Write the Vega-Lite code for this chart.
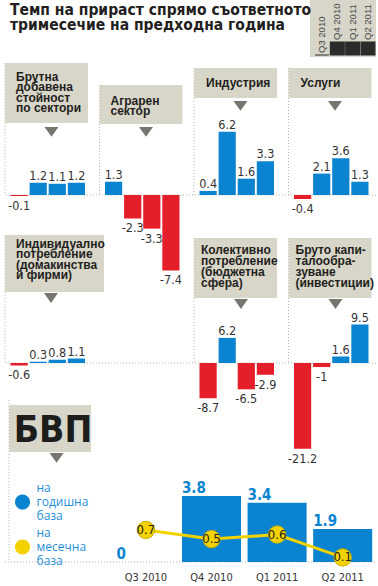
{
  "$schema": "https://vega.github.io/schema/vega-lite/v6.json",
  "padding": {"left": 4, "top": 0, "right": 3, "bottom": 24},
  "background": "white",
  "title": {
    "text": ["Темп на прираст спрямо съответното", "тримесечие на предходна година"],
    "anchor": "start", "orient": "top", "frame": "group", "offset": -33, "baseline": "top", "dx": 5,
    "font": "Liberation Sans Narrow, DejaVu Sans Condensed, sans-serif", "fontSize": 15.5, "fontWeight": "bold",
    "color": "#231f20", "lineHeight": 15
  },
  "config": {"view": {"stroke": null}, "font": "Liberation Sans, sans-serif"},
  "datasets": {
    "bars": [
      {"panel": "Брутна добавена стойност", "q": "Q3 2010", "v": -0.1},
      {"panel": "Брутна добавена стойност", "q": "Q4 2010", "v": 1.2},
      {"panel": "Брутна добавена стойност", "q": "Q1 2011", "v": 1.1},
      {"panel": "Брутна добавена стойност", "q": "Q2 2011", "v": 1.2},
      {"panel": "Аграрен сектор", "q": "Q3 2010", "v": 1.3},
      {"panel": "Аграрен сектор", "q": "Q4 2010", "v": -2.3},
      {"panel": "Аграрен сектор", "q": "Q1 2011", "v": -3.3},
      {"panel": "Аграрен сектор", "q": "Q2 2011", "v": -7.4},
      {"panel": "Индустрия", "q": "Q3 2010", "v": 0.4},
      {"panel": "Индустрия", "q": "Q4 2010", "v": 6.2},
      {"panel": "Индустрия", "q": "Q1 2011", "v": 1.6},
      {"panel": "Индустрия", "q": "Q2 2011", "v": 3.3},
      {"panel": "Услуги", "q": "Q3 2010", "v": -0.4},
      {"panel": "Услуги", "q": "Q4 2010", "v": 2.1},
      {"panel": "Услуги", "q": "Q1 2011", "v": 3.6},
      {"panel": "Услуги", "q": "Q2 2011", "v": 1.3},
      {"panel": "Индивидуално потребление", "q": "Q3 2010", "v": -0.6},
      {"panel": "Индивидуално потребление", "q": "Q4 2010", "v": 0.3},
      {"panel": "Индивидуално потребление", "q": "Q1 2011", "v": 0.8},
      {"panel": "Индивидуално потребление", "q": "Q2 2011", "v": 1.1},
      {"panel": "Колективно потребление", "q": "Q3 2010", "v": -8.7},
      {"panel": "Колективно потребление", "q": "Q4 2010", "v": 6.2},
      {"panel": "Колективно потребление", "q": "Q1 2011", "v": -6.5},
      {"panel": "Колективно потребление", "q": "Q2 2011", "v": -2.9},
      {"panel": "Бруто капиталообразуване", "q": "Q3 2010", "v": -21.2},
      {"panel": "Бруто капиталообразуване", "q": "Q4 2010", "v": -1},
      {"panel": "Бруто капиталообразуване", "q": "Q1 2011", "v": 1.6},
      {"panel": "Бруто капиталообразуване", "q": "Q2 2011", "v": 9.5}
    ],
    "boxes": [
      {"panel": "Брутна добавена стойност", "label": "Брутна\nдобавена\nстойност\nпо сектори"},
      {"panel": "Аграрен сектор", "label": "Аграрен\nсектор"},
      {"panel": "Индустрия", "label": "Индустрия"},
      {"panel": "Услуги", "label": "Услуги"},
      {"panel": "Индивидуално потребление", "label": "Индивидуално\nпотребление\n(домакинства\nи фирми)"},
      {"panel": "Колективно потребление", "label": "Колективно\nпотребление\n(бюджетна\nсфера)"},
      {"panel": "Бруто капиталообразуване", "label": "Бруто капи-\nталообра-\nзуване\n(инвестиции)"}
    ],
    "gdp": [
      {"q": "Q3 2010", "annual": 0, "monthly": 0.7},
      {"q": "Q4 2010", "annual": 3.8, "monthly": 0.5},
      {"q": "Q1 2011", "annual": 3.4, "monthly": 0.6},
      {"q": "Q2 2011", "annual": 1.9, "monthly": 0.1}
    ],
    "quarters": [
      {"q": "Q3 2010", "m": 0},
      {"q": "Q4 2010", "m": 1},
      {"q": "Q1 2011", "m": 1},
      {"q": "Q2 2011", "m": 1}
    ],
    "gdpTitle": [{"label": "БВП"}]
  },
  "spacing": 3,
  "bounds": "flush",
  "vconcat": [
    {
      "width": 371, "height": 57,
      "resolve": {"scale": {"x": "independent"}},
      "layer": [
        {"data": {"name": "quarters"}, "transform": [{"filter": {"field": "q", "equal": "Q3 2010"}}], "mark": {"type": "rect", "color": "#d8d6c9"},
         "encoding": {"x": {"field": "q", "type": "nominal", "axis": null, "scale": {"domain": ["Q3 2010"], "range": [305, 371], "paddingInner": 0, "paddingOuter": 0}},
                      "y": {"datum": 4.231, "type": "quantitative", "axis": null, "scale": {"domain": [-0.154, 4.231], "nice": false}}, "y2": {"datum": -0.154}}},
        {"data": {"name": "quarters"},
         "encoding": {"x": {"field": "q", "type": "nominal", "axis": null, "scale": {"domain": ["Q3 2010", "Q4 2010", "Q1 2011", "Q2 2011"], "range": [305, 371], "paddingInner": 0.1, "paddingOuter": 0.2026, "align": 0.82}},
                      "y": {"field": "m", "type": "quantitative", "axis": null, "scale": {"domain": [-0.154, 4.231], "nice": false}}},
         "layer": [
           {"mark": {"type": "bar", "color": "#2b2b2b", "stroke": "#2b2b2b", "strokeWidth": 1.2}},
           {"mark": {"type": "text", "angle": 270, "align": "left", "baseline": "middle", "dx": 2, "font": "Liberation Sans, sans-serif", "fontSize": 9.5, "color": "#444444"}, "encoding": {"text": {"field": "q", "type": "nominal"}}}
         ]}
      ]
    },
    {
      "width": 371, "height": 167,
      "layer": [
        {"data": {"name": "gdpTitle"}, "mark": {"type": "rule", "color": "#b3b3b3", "strokeDash": [1, 2]},
         "encoding": {"y": {"datum": 0, "type": "quantitative", "axis": null, "scale": {"domain": [-3.137, 13.235], "nice": false}}}},
        {"data": {"name": "boxes"}, "transform": [{"filter": {"field": "panel", "equal": "Брутна добавена стойност"}}],
         "encoding": {"x": {"field": "panel", "type": "nominal", "axis": null, "scale": {"domain": ["Брутна добавена стойност", "Аграрен сектор", "Индустрия", "Услуги"], "paddingInner": 0.1217, "paddingOuter": 0.0238, "align": 0}}},
         "layer": [
           {"mark": {"type": "rule", "color": "#b3b3b3", "strokeDash": [1, 2]}, "encoding": {"x": {"field": "panel", "type": "nominal", "bandPosition": 0, "axis": null}, "y": {"datum": 12.94, "type": "quantitative", "axis": null}, "y2": {"datum": 0}}},
           {"mark": {"type": "rect", "color": "#d8d6c9"}, "encoding": {"y": {"datum": 12.94, "type": "quantitative", "axis": null}, "y2": {"datum": 7.06}}},
           {"mark": {"type": "point", "shape": "M-1,-0.7L1,-0.7L0,0.7Z", "filled": true, "color": "#76766f", "size": 196, "opacity": 1}, "encoding": {"x": {"field": "panel", "type": "nominal", "bandPosition": 0.56, "axis": null}, "y": {"datum": 6.18, "type": "quantitative", "axis": null}}},
           {"mark": {"type": "text", "align": "left", "baseline": "top", "lineBreak": "\n", "lineHeight": 10.3, "dx": 11, "fontSize": 12, "fontWeight": "bold", "color": "#231f20"}, "encoding": {"x": {"field": "panel", "type": "nominal", "bandPosition": 0, "axis": null}, "y": {"datum": 12.06, "type": "quantitative", "axis": null}, "text": {"field": "label"}}}
         ]},
        {"data": {"name": "boxes"}, "transform": [{"filter": {"field": "panel", "equal": "Аграрен сектор"}}],
         "encoding": {"x": {"field": "panel", "type": "nominal", "axis": null}},
         "layer": [
           {"mark": {"type": "rule", "color": "#b3b3b3", "strokeDash": [1, 2]}, "encoding": {"x": {"field": "panel", "type": "nominal", "bandPosition": 0, "axis": null}, "y": {"datum": 10.78, "type": "quantitative", "axis": null}, "y2": {"datum": 0}}},
           {"mark": {"type": "rect", "color": "#d8d6c9"}, "encoding": {"y": {"datum": 10.78, "type": "quantitative", "axis": null}, "y2": {"datum": 6.96}}},
           {"mark": {"type": "point", "shape": "M-1,-0.7L1,-0.7L0,0.7Z", "filled": true, "color": "#76766f", "size": 196, "opacity": 1}, "encoding": {"x": {"field": "panel", "type": "nominal", "bandPosition": 0.56, "axis": null}, "y": {"datum": 6.18, "type": "quantitative", "axis": null}}},
           {"mark": {"type": "text", "align": "left", "baseline": "top", "lineBreak": "\n", "lineHeight": 10.3, "dx": 11, "fontSize": 12, "fontWeight": "bold", "color": "#231f20"}, "encoding": {"x": {"field": "panel", "type": "nominal", "bandPosition": 0, "axis": null}, "y": {"datum": 9.71, "type": "quantitative", "axis": null}, "text": {"field": "label"}}}
         ]},
        {"data": {"name": "boxes"}, "transform": [{"filter": {"field": "panel", "oneOf": ["Индустрия", "Услуги"]}}],
         "encoding": {"x": {"field": "panel", "type": "nominal", "axis": null}},
         "layer": [
           {"mark": {"type": "rule", "color": "#b3b3b3", "strokeDash": [1, 2]}, "encoding": {"x": {"field": "panel", "type": "nominal", "bandPosition": 0, "axis": null}, "y": {"datum": 12.45, "type": "quantitative", "axis": null}, "y2": {"datum": 0}}},
           {"mark": {"type": "rect", "color": "#d8d6c9"}, "encoding": {"y": {"datum": 12.45, "type": "quantitative", "axis": null}, "y2": {"datum": 9.51}}},
           {"mark": {"type": "point", "shape": "M-1,-0.7L1,-0.7L0,0.7Z", "filled": true, "color": "#76766f", "size": 196, "opacity": 1}, "encoding": {"x": {"field": "panel", "type": "nominal", "bandPosition": 0.56, "axis": null}, "y": {"datum": 8.73, "type": "quantitative", "axis": null}}},
           {"mark": {"type": "text", "align": "left", "baseline": "top", "lineBreak": "\n", "lineHeight": 10.3, "dx": 12, "fontSize": 12, "fontWeight": "bold", "color": "#231f20"}, "encoding": {"x": {"field": "panel", "type": "nominal", "bandPosition": 0, "axis": null}, "y": {"datum": 11.47, "type": "quantitative", "axis": null}, "text": {"field": "label"}}}
         ]},
        {"data": {"name": "bars"}, "transform": [{"filter": {"field": "panel", "oneOf": ["Брутна добавена стойност", "Аграрен сектор", "Индустрия", "Услуги"]}}],
         "encoding": {
           "x": {"field": "panel", "type": "nominal", "axis": null},
           "xOffset": {"field": "q", "type": "nominal", "scale": {"domain": ["Q3 2010", "Q4 2010", "Q1 2011", "Q2 2011"], "paddingInner": 0.1, "paddingOuter": 0.2225, "align": 0.647}},
           "y": {"field": "v", "type": "quantitative", "axis": null}
         },
         "layer": [
           {"mark": {"type": "bar"}, "encoding": {"color": {"condition": {"test": "datum.v < 0", "value": "#e41f2a"}, "value": "#0a84d0"}}},
           {"transform": [{"filter": "datum.v >= 0"}], "mark": {"type": "text", "baseline": "alphabetic", "dy": -3, "font": "Liberation Sans Narrow, DejaVu Sans Condensed, sans-serif", "fontSize": 12.5, "color": "#333333"}, "encoding": {"text": {"field": "v", "type": "nominal"}}},
           {"transform": [{"filter": "datum.v < 0"}], "mark": {"type": "text", "baseline": "top", "dy": 4, "font": "Liberation Sans Narrow, DejaVu Sans Condensed, sans-serif", "fontSize": 12.5, "color": "#333333"}, "encoding": {"text": {"field": "v", "type": "nominal"}}}
         ]}
      ]
    },
    {
      "width": 371, "height": 167,
      "resolve": {"scale": {"x": "independent"}},
      "layer": [
        {"data": {"name": "gdpTitle"}, "mark": {"type": "rule", "color": "#b3b3b3", "strokeDash": [1, 2]},
         "encoding": {"y": {"datum": 0, "type": "quantitative", "axis": null, "scale": {"domain": [-8.395, 32.84], "nice": false}}}},
        {"data": {"name": "boxes"}, "transform": [{"filter": {"field": "panel", "equal": "Индивидуално потребление"}}],
         "encoding": {"x": {"field": "panel", "type": "nominal", "axis": null, "scale": {"domain": ["Индивидуално потребление"], "range": [0, 99], "paddingInner": 0, "paddingOuter": 0}}},
         "layer": [
           {"mark": {"type": "rule", "color": "#b3b3b3", "strokeDash": [1, 2]}, "encoding": {"x": {"field": "panel", "type": "nominal", "bandPosition": 0, "axis": null}, "y": {"datum": 31.6, "type": "quantitative", "axis": null}, "y2": {"datum": 0}}},
           {"mark": {"type": "rect", "color": "#d8d6c9"}, "encoding": {"y": {"datum": 31.6, "type": "quantitative", "axis": null}, "y2": {"datum": 17.53}}},
           {"mark": {"type": "point", "shape": "M-1,-0.7L1,-0.7L0,0.7Z", "filled": true, "color": "#76766f", "size": 196, "opacity": 1}, "encoding": {"x": {"field": "panel", "type": "nominal", "bandPosition": 0.465, "axis": null}, "y": {"datum": 16.05, "type": "quantitative", "axis": null}}},
           {"mark": {"type": "text", "align": "left", "baseline": "top", "lineBreak": "\n", "lineHeight": 10.4, "dx": 11, "fontSize": 12, "fontWeight": "bold", "color": "#231f20"}, "encoding": {"x": {"field": "panel", "type": "nominal", "bandPosition": 0, "axis": null}, "y": {"datum": 30.62, "type": "quantitative", "axis": null}, "text": {"field": "label"}}}
         ]},
        {
          "layer": [
            {"data": {"name": "boxes"}, "transform": [{"filter": {"field": "panel", "oneOf": ["Колективно потребление", "Бруто капиталообразуване"]}}],
             "encoding": {"x": {"field": "panel", "type": "nominal", "axis": null, "scale": {"domain": ["Индивидуално потребление", "—", "Колективно потребление", "Бруто капиталообразуване"], "paddingInner": 0.1217, "paddingOuter": 0.0238, "align": 0}}},
             "layer": [
               {"mark": {"type": "rule", "color": "#b3b3b3", "strokeDash": [1, 2]}, "encoding": {"x": {"field": "panel", "type": "nominal", "bandPosition": 0, "axis": null}, "y": {"datum": 30.86, "type": "quantitative", "axis": null}, "y2": {"datum": 0}}},
               {"mark": {"type": "rect", "color": "#d8d6c9"}, "encoding": {"y": {"datum": 30.86, "type": "quantitative", "axis": null}, "y2": {"datum": 16.05}}},
               {"mark": {"type": "point", "shape": "M-1,-0.7L1,-0.7L0,0.7Z", "filled": true, "color": "#76766f", "size": 196, "opacity": 1}, "encoding": {"x": {"field": "panel", "type": "nominal", "bandPosition": 0.566, "axis": null}, "y": {"datum": 14.57, "type": "quantitative", "axis": null}}},
               {"mark": {"type": "text", "align": "left", "baseline": "top", "lineBreak": "\n", "lineHeight": 11, "dx": 7, "fontSize": 12, "fontWeight": "bold", "color": "#231f20"}, "encoding": {"x": {"field": "panel", "type": "nominal", "bandPosition": 0, "axis": null}, "y": {"datum": 29.14, "type": "quantitative", "axis": null}, "text": {"field": "label"}}}
             ]},
            {"data": {"name": "bars"}, "transform": [{"filter": {"field": "panel", "oneOf": ["Индивидуално потребление", "Колективно потребление", "Бруто капиталообразуване"]}}],
             "encoding": {
               "x": {"field": "panel", "type": "nominal", "axis": null},
               "xOffset": {"field": "q", "type": "nominal", "scale": {"domain": ["Q3 2010", "Q4 2010", "Q1 2011", "Q2 2011"], "paddingInner": 0.1, "paddingOuter": 0.2825, "align": 0.857}},
               "y": {"field": "v", "type": "quantitative", "axis": null}
             },
             "layer": [
               {"mark": {"type": "bar"}, "encoding": {"color": {"condition": {"test": "datum.v < 0", "value": "#e41f2a"}, "value": "#0a84d0"}}},
               {"transform": [{"filter": "datum.v >= 0"}], "mark": {"type": "text", "baseline": "alphabetic", "dy": -3, "font": "Liberation Sans Narrow, DejaVu Sans Condensed, sans-serif", "fontSize": 12.5, "color": "#333333"}, "encoding": {"text": {"field": "v", "type": "nominal"}}},
               {"transform": [{"filter": "datum.v < 0"}], "mark": {"type": "text", "baseline": "top", "dy": 4, "font": "Liberation Sans Narrow, DejaVu Sans Condensed, sans-serif", "fontSize": 12.5, "color": "#333333"}, "encoding": {"text": {"field": "v", "type": "nominal"}}}
             ]}
          ]
        }
      ]
    },
    {
      "width": 370, "height": 162,
      "resolve": {"scale": {"x": "independent", "y": "independent"}},
      "layer": [
        {"data": {"name": "gdpTitle"}, "mark": {"type": "rule", "color": "#b3b3b3", "strokeDash": [1, 2]},
         "encoding": {"y": {"datum": 0, "type": "quantitative", "axis": null, "scale": {"domain": [0, 9.31], "nice": false}}}},
        {"data": {"name": "gdpTitle"},
         "encoding": {"x": {"field": "label", "type": "nominal", "axis": null, "scale": {"domain": ["БВП"], "range": [4, 86], "paddingInner": 0, "paddingOuter": 0}}},
         "layer": [
           {"mark": {"type": "rule", "color": "#b3b3b3", "strokeDash": [1, 2]}, "encoding": {"x": {"field": "label", "type": "nominal", "bandPosition": 0, "axis": null}, "y": {"datum": 9.31, "type": "quantitative", "axis": null, "scale": {"domain": [0, 9.31], "nice": false}}, "y2": {"datum": 0}}},
           {"mark": {"type": "rect", "color": "#d8d6c9"}, "encoding": {"y": {"datum": 9.02, "type": "quantitative", "axis": null}, "y2": {"datum": 6.32}}},
           {"mark": {"type": "text", "align": "center", "baseline": "alphabetic", "dx": 3, "font": "Liberation Sans Narrow, DejaVu Sans Condensed, sans-serif", "fontSize": 37, "fontWeight": "bold", "color": "#1d1d1b"}, "encoding": {"y": {"datum": 6.9, "type": "quantitative", "axis": null}, "text": {"field": "label"}}},
           {"mark": {"type": "point", "shape": "M-1,-0.7L1,-0.7L0,0.7Z", "filled": true, "color": "#76766f", "size": 196, "opacity": 1}, "encoding": {"x": {"field": "label", "type": "nominal", "bandPosition": 0.58, "axis": null}, "y": {"datum": 5.98, "type": "quantitative", "axis": null}}}
         ]},
        {"data": {"name": "gdp"},
         "layer": [
           {"mark": {"type": "bar"},
            "encoding": {
              "x": {"field": "q", "type": "nominal", "axis": null, "scale": {"domain": ["Q3 2010", "Q4 2010", "Q1 2011", "Q2 2011"], "paddingInner": 0.1, "paddingOuter": 0.8704, "align": 0.9755}},
              "y": {"field": "annual", "type": "quantitative", "scale": {"domain": [0, 9.31], "nice": false}, "axis": null},
              "color": {"datum": "на годишна база", "type": "nominal",
                        "scale": {"domain": ["на годишна база", "на месечна база"], "range": ["#0a84d0", "#f3d200"]},
                        "legend": {"orient": "none", "legendX": 10.5, "legendY": 481, "title": null, "symbolType": "M-1.12,2.1A1.12,1.12,0,1,1,1.12,2.1A1.12,1.12,0,1,1,-1.12,2.1Z", "symbolSize": 180, "symbolStrokeWidth": 0, "symbolOpacity": 1, "labelExpr": "split(datum.label, ' ')", "labelFont": "Open Sans, sans-serif", "labelFontSize": 12, "labelColor": "#1e8fd8", "labelOffset": 7, "rowPadding": 4, "padding": 0, "labelLimit": 200}}
            }},
           {"mark": {"type": "text", "align": "left", "baseline": "alphabetic", "dy": -3, "font": "Liberation Sans Narrow, DejaVu Sans Condensed, sans-serif", "fontSize": 15, "fontWeight": "bold", "color": "#0a84d0"},
            "encoding": {"x": {"field": "q", "type": "nominal", "bandPosition": 0, "axis": null}, "y": {"field": "annual", "type": "quantitative", "axis": null}, "text": {"field": "annual", "type": "nominal"}}},
           {"mark": {"type": "text", "align": "center", "baseline": "top", "dy": 10, "font": "Liberation Sans Narrow, DejaVu Sans Condensed, sans-serif", "fontSize": 11, "color": "#333333"},
            "encoding": {"x": {"field": "q", "type": "nominal", "axis": null}, "y": {"datum": 0, "type": "quantitative", "axis": null}, "text": {"field": "q", "type": "nominal"}}}
         ]},
        {"data": {"name": "gdp"},
         "encoding": {
           "x": {"field": "q", "type": "nominal", "axis": null, "scale": {"type": "band", "domain": ["Q3 2010", "Q4 2010", "Q1 2011", "Q2 2011"], "paddingInner": 0.1, "paddingOuter": 0.8704, "align": 0.9755}},
           "y": {"field": "monthly", "type": "quantitative", "axis": null, "scale": {"domain": [0, 3.537], "nice": false}}
         },
         "layer": [
           {"mark": {"type": "line", "color": "#f3d200", "strokeWidth": 3}},
           {"mark": {"type": "point", "filled": true, "size": 300, "opacity": 1, "stroke": "#c9ad00", "strokeWidth": 1}, "encoding": {"color": {"datum": "на месечна база", "type": "nominal"}}},
           {"mark": {"type": "text", "align": "center", "baseline": "middle", "font": "Liberation Sans Narrow, DejaVu Sans Condensed, sans-serif", "fontSize": 13, "color": "#222222"}, "encoding": {"text": {"field": "monthly", "type": "nominal"}}}
         ]}
      ]
    }
  ]
}
